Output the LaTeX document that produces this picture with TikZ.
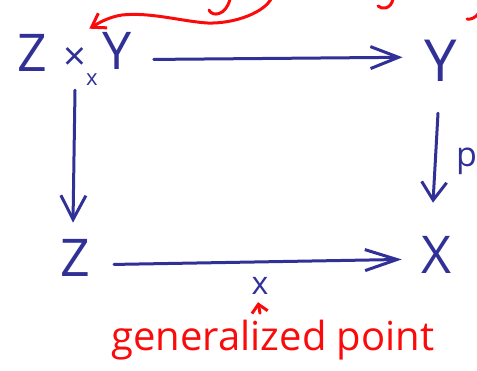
\documentclass[tikz,border=0pt]{standalone}
\usepackage{fontspec}
\setmainfont{Open Sans}
\usetikzlibrary{arrows.meta,calc}
\definecolor{penblue}{RGB}{48,48,150}
\definecolor{penred}{RGB}{250,10,10}
\tikzset{
  bl/.style={text=penblue, inner sep=0pt, anchor=base, font=\fontsize{52}{52}\selectfont},
  rd/.style={text=penred, inner sep=0pt, anchor=base},
  barr/.style={draw=penblue, line width=3pt, line cap=round, line join=round},
  rarr/.style={draw=penred, line width=3pt, line cap=round, line join=round},
}
\begin{document}
\begin{tikzpicture}[x=1pt,y=-1pt]
\useasboundingbox (0,0) rectangle (477,371);
\clip (0,0) rectangle (477,371);
% top left pullback
\node[bl] (Za) at (32,72) {Z};
\node[bl, font=\fontsize{40}{40}\selectfont] (tm) at (75,71) {×};
\node[bl] (Ya) at (117,70) {Y};
\node[bl, font=\fontsize{22}{22}\selectfont] (sx) at (92,86) {x};
% other corners
\node[bl, font=\fontsize{58}{58}\selectfont] (Yb) at (441,82) {Y};
\node[bl] (Zb) at (75,277) {Z};
\node[bl] (Xb) at (437,274) {X};
\node[bl, font=\fontsize{32}{32}\selectfont] (xl) at (260,295) {x};
\node[bl, anchor=base west, font=\fontsize{34}{34}\selectfont] (p) at (456,167) {p};
\node[rd, font=\fontsize{40}{40}\selectfont] (gp) at (273,351) {generalized point};
% blue arrows
\draw[barr, -{Straight Barb[length=28pt,width=22pt]}] ($(Ya.east)+(22,8)$) -- ($(Yb.west)+(-22,-4)$);
\draw[barr, -{Straight Barb[length=24pt,width=25pt]}] ($(sx.south -| Zb.north)+(0,4)$) -- ($(Zb.north)+(-2,-17)$);
\draw[barr, -{Straight Barb[length=18pt,width=25pt]}] ($(Yb.south)+(-3,31)$) -- ($(Xb.north)+(-4,-34)$);
\draw[barr, -{Straight Barb[length=32pt,width=21pt]}] ($(Zb.east)+(24,6)$) -- ($(Xb.west)+(-20,4)$);
% red arrows
\draw[rarr, -{Straight Barb[length=8pt,width=16pt]}] ($(xl.south)+(0,18)$) -- ($(xl.south)+(-2,7)$);
\coordinate (rc) at (272,-3);
\draw[rarr, -{Straight Barb[length=13pt,width=17pt]}] (rc) .. controls (266,12) and (235,24) .. (207,23)
  .. controls (180,21) and (150,12) .. (122,15) .. controls (108,17) and (97,24) .. ($(Ya.north west)+(-13,-4)$);
% cut-off red descenders at top
\draw[rarr] (209,10) .. controls (212,17) and (226,16) .. (230,-1);
\draw[rarr] (378,6) .. controls (382,10) and (391,9) .. (393,-1);
\draw[rarr] (467,19) .. controls (471,20) and (476,17) .. (478,14);
\end{tikzpicture}
\end{document}
